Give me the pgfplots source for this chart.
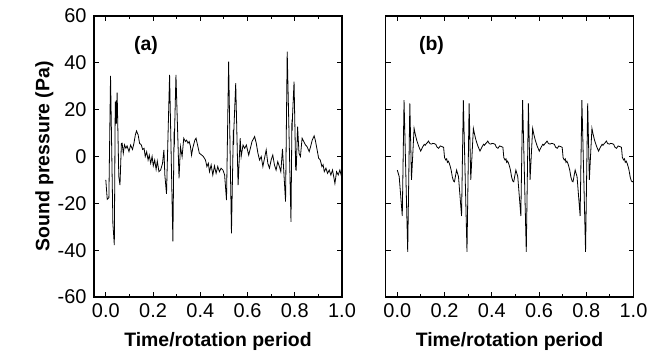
\documentclass[border=0pt]{standalone}
\usepackage{fontspec}
\setmainfont{Liberation Sans}
\usepackage{pgfplots}
\pgfplotsset{compat=1.18}
\pgfplotsset{
  myax/.style={
    scale only axis, width=248bp, height=281bp,
    xmin=-0.05, xmax=1.0, ymin=-60, ymax=60,
    xtick={0,0.2,0.4,0.6,0.8,1.0},
    minor xtick={0.1,0.3,0.5,0.7,0.9},
    ytick={-60,-40,-20,0,20,40,60},
    tick pos=both, tick align=inside,
    major tick length=5bp, minor tick length=3bp,
    axis line style={line width=1.2bp},
    every tick/.style={black, line width=0.9bp},
    /pgf/number format/assume math mode=true,
    xticklabel style={/pgf/number format/fixed, /pgf/number format/fixed zerofill, /pgf/number format/precision=1, yshift=-3.5bp},
    yticklabel style={xshift=-4bp},
    tick label style={font=\fontsize{20}{22}\selectfont},
    label style={font=\fontsize{19.5}{21}\selectfont\bfseries},
    xlabel={Time/rotation period},
    xlabel style={at={(axis description cs:0.5,0)}, anchor=base, yshift=-49bp},
    clip=true,
  }
}
\begin{document}
\begin{tikzpicture}
\path[use as bounding box] (0,0) rectangle (647bp,354bp);
\begin{axis}[myax, at={(94bp,57bp)}, anchor=south west, ylabel={Sound pressure (Pa)},
  ylabel style={at={(axis description cs:-0.149,0.5)}, anchor=south}]
\addplot[black, line width=0.8bp] coordinates {
(0.000,-10) (0.006,-18.3) (0.013,-17.6) (0.020,34.4) (0.030,-28.6) (0.036,-37.8)
(0.040,23.4) (0.042,14) (0.044,24) (0.045,14) (0.048,27.3) (0.055,-8.6) (0.060,-12.2)
(0.066,5.5) (0.069,5.7) (0.074,1.4) (0.079,5) (0.085,3.5) (0.090,4.5) (0.098,2.1)
(0.105,4.9) (0.113,3) (0.119,5.6) (0.125,9.2) (0.130,10.9) (0.137,9.2) (0.143,5.6)
(0.150,5) (0.156,3) (0.162,3.5) (0.167,0) (0.173,2) (0.179,-1.5) (0.184,0.6)
(0.190,-2.9) (0.196,0) (0.201,-4) (0.207,-1.5) (0.213,-5.5) (0.218,-2) (0.225,-6.5)
(0.232,-5.8) (0.240,-3) (0.246,2.8) (0.250,-8) (0.257,-16) (0.270,34.8) (0.284,-36.2)
(0.289,10.6) (0.290,4) (0.291,10) (0.297,34.8) (0.310,-9.3) (0.316,4.2) (0.323,0)
(0.330,7.8) (0.337,6.4) (0.342,7) (0.348,5.7) (0.353,6.4) (0.358,4.5) (0.363,0.6)
(0.368,3.5) (0.377,7) (0.382,7.8) (0.390,4.2) (0.396,1.4) (0.405,0.7) (0.413,0)
(0.422,-1.5) (0.428,-4.3) (0.434,-2.9) (0.439,-6.5) (0.446,-3.6) (0.453,-7.9)
(0.460,-4) (0.467,-7.2) (0.474,-4.3) (0.481,-6.5) (0.488,-5) (0.496,-5.8) (0.503,-7.9)
(0.511,-18.6) (0.520,40.5) (0.532,-32.8) (0.540,11.3) (0.541,5) (0.542,11) (0.550,31.3)
(0.560,-12.2) (0.569,7.8) (0.573,0) (0.581,4.9) (0.588,3.5) (0.595,4.9) (0.605,0.6)
(0.612,3.5) (0.619,6.4) (0.630,8.5) (0.637,5.7) (0.644,1.4) (0.651,-1.5) (0.658,0)
(0.665,-4.3) (0.672,-0.7) (0.679,2.8) (0.686,-2.9) (0.693,-5) (0.700,-1.5) (0.707,0.6)
(0.714,-3.6) (0.721,-5.8) (0.728,-2.2) (0.735,-4.3) (0.741,-6.5) (0.748,3.2)
(0.761,-19.3) (0.768,44.8) (0.784,-27.9) (0.788,15.6) (0.789,11) (0.790,16) (0.797,32)
(0.804,-5.8) (0.805,-3) (0.806,-6) (0.812,12.7) (0.818,1.4) (0.824,0) (0.831,7.8)
(0.838,6.4) (0.845,5) (0.852,4.2) (0.861,2.1) (0.867,4.2) (0.874,7) (0.882,8.8)
(0.887,7) (0.896,2.1) (0.901,-0.7) (0.908,-1.5) (0.915,-4.3) (0.920,-3.5) (0.925,-6.5)
(0.932,-5) (0.939,-7.2) (0.946,-5.8) (0.953,-7.9) (0.960,-5.8) (0.970,-11.5)
(0.977,-6.5) (0.984,-7.9) (0.991,-5.8) (0.998,-8.6) (1.000,-4.3)
};
\node[font=\fontsize{19.5}{21}\selectfont\bfseries] at (axis cs:0.17,47.5) {(a)};
\end{axis}
\begin{axis}[myax, at={(385.5bp,57bp)}, anchor=south west, yticklabels={}]
\addplot[black, line width=0.8bp] coordinates {
(0.000,-5.8) (0.008,-8.6) (0.021,-25.4) (0.0285,24.1) (0.044,-40.7) (0.053,22.7)
(0.060,-10) (0.071,12) (0.076,9.5) (0.082,7) (0.090,4.5) (0.099,2.3) (0.107,4)
(0.114,5.2) (0.118,4.8) (0.123,5.5) (0.127,5.9) (0.132,6.6) (0.138,5.5) (0.145,5.3)
(0.150,5.6) (0.156,5.5) (0.163,5.2) (0.168,4) (0.175,3.5) (0.182,4.5) (0.190,4.2)
(0.196,3.9) (0.200,-0.5) (0.205,-1.5) (0.209,-1) (0.212,-2.5) (0.216,-2) (0.220,-2.9)
(0.224,-4.2) (0.228,-5.8) (0.233,-8.8) (0.238,-10.5) (0.242,-10.8) (0.246,-8.5)
(0.251,-5.8) (0.259,-8.6) (0.272,-25.4) (0.2795,24.1) (0.295,-40.7) (0.304,22.7)
(0.311,-10) (0.322,12) (0.327,9.5) (0.333,7) (0.341,4.5) (0.350,2.3) (0.358,4)
(0.365,5.2) (0.369,4.8) (0.374,5.5) (0.378,5.9) (0.383,6.6) (0.389,5.5) (0.396,5.3)
(0.401,5.6) (0.407,5.5) (0.414,5.2) (0.419,4) (0.426,3.5) (0.433,4.5) (0.441,4.2)
(0.447,3.9) (0.451,-0.5) (0.456,-1.5) (0.460,-1) (0.463,-2.5) (0.467,-2) (0.471,-2.9)
(0.475,-4.2) (0.479,-5.8) (0.484,-8.8) (0.489,-10.5) (0.493,-10.8) (0.497,-8.5)
(0.502,-5.8) (0.510,-8.6) (0.523,-25.4) (0.5305,24.1) (0.546,-40.7) (0.555,22.7)
(0.562,-10) (0.573,12) (0.578,9.5) (0.584,7) (0.592,4.5) (0.601,2.3) (0.609,4)
(0.616,5.2) (0.620,4.8) (0.625,5.5) (0.629,5.9) (0.634,6.6) (0.640,5.5) (0.647,5.3)
(0.652,5.6) (0.658,5.5) (0.665,5.2) (0.670,4) (0.677,3.5) (0.684,4.5) (0.692,4.2)
(0.698,3.9) (0.702,-0.5) (0.707,-1.5) (0.711,-1) (0.714,-2.5) (0.718,-2) (0.722,-2.9)
(0.726,-4.2) (0.730,-5.8) (0.735,-8.8) (0.740,-10.5) (0.744,-10.8) (0.748,-8.5)
(0.753,-5.8) (0.761,-8.6) (0.774,-25.4) (0.7815,24.1) (0.797,-40.7) (0.806,22.7)
(0.813,-10) (0.824,12) (0.829,9.5) (0.835,7) (0.843,4.5) (0.852,2.3) (0.860,4)
(0.867,5.2) (0.871,4.8) (0.876,5.5) (0.880,5.9) (0.885,6.6) (0.891,5.5) (0.898,5.3)
(0.903,5.6) (0.909,5.5) (0.916,5.2) (0.921,4) (0.928,3.5) (0.935,4.5) (0.943,4.2)
(0.949,3.9) (0.953,-0.5) (0.958,-1.5) (0.962,-1) (0.965,-2.5) (0.969,-2) (0.973,-2.9)
(0.977,-4.2) (0.981,-5.8) (0.986,-8.8) (0.991,-10.5) (0.995,-10.8) (1.000,-10.5)
};
\node[font=\fontsize{19.5}{21}\selectfont\bfseries] at (axis cs:0.145,47.5) {(b)};
\end{axis}
\end{tikzpicture}
\end{document}
